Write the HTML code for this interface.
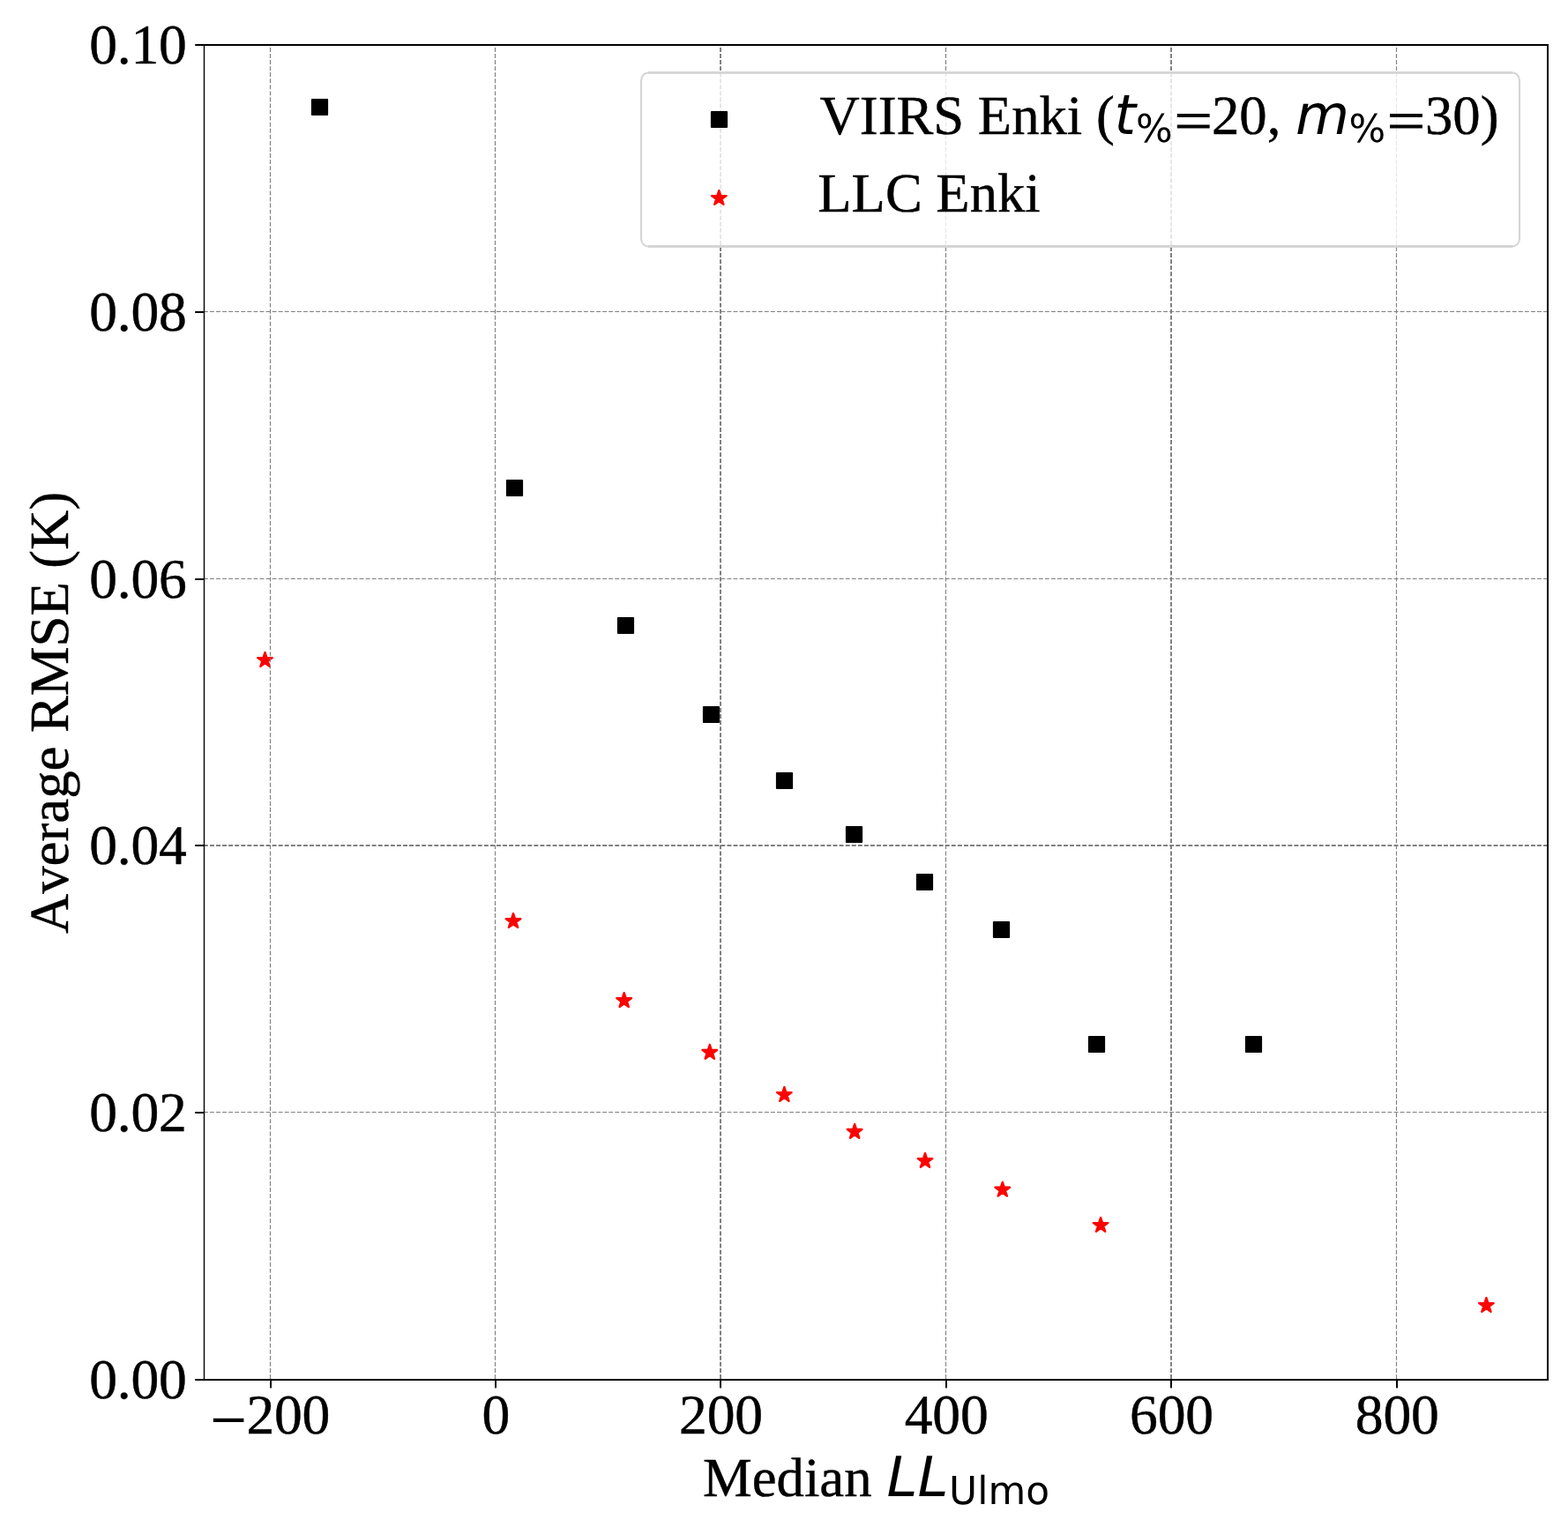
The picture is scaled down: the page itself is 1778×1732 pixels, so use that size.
<!DOCTYPE html>
<html lang="en">
<head>
<meta charset="utf-8">
<title>Average RMSE vs Median LL Ulmo</title>
<style>
html,body{margin:0;padding:0;background:#fff;}
body{width:1778px;height:1732px;overflow:hidden;}
svg{display:block;}
text{font-family:"Liberation Serif","DejaVu Serif",serif;font-size:62.7px;fill:#000;stroke:#000;stroke-width:0.45px;font-kerning:none;font-variant-ligatures:none;text-rendering:geometricPrecision;}
.tl text{font-size:63.6px;letter-spacing:-0.2px;}
.mi{font-family:"DejaVu Sans",sans-serif;font-style:italic;stroke:none;}
.ms{font-family:"DejaVu Sans",sans-serif;font-size:43.89px;stroke:none;}
.op{stroke-width:0.9px;}
.sq{fill:#000;stroke:#000;stroke-width:2.0;stroke-linejoin:round;}
.st{fill:#f00;stroke:#f00;stroke-width:2.4;stroke-linejoin:round;}
.grid line{stroke-dasharray:4.95 2.116;fill:none;}
.gn{stroke:#808080;stroke-width:1.15;}
.gk{stroke:#808080;stroke-width:2;}
.tick rect{fill:#000;}
.spine{fill:#000;}
</style>
</head>
<body>
<svg width="1778" height="1732" viewBox="0 0 1778 1732">
<rect x="0" y="0" width="1778" height="1732" fill="#ffffff"/>

<g id="squares">
<rect class="sq" x="353.90" y="112.90" width="17.20" height="17.20"/>
<rect class="sq" x="574.90" y="544.90" width="17.20" height="17.20"/>
<rect class="sq" x="700.90" y="700.90" width="17.20" height="17.20"/>
<rect class="sq" x="797.90" y="801.90" width="17.20" height="17.20"/>
<rect class="sq" x="880.90" y="876.90" width="17.20" height="17.20"/>
<rect class="sq" x="959.90" y="937.90" width="17.20" height="17.20"/>
<rect class="sq" x="1039.90" y="991.90" width="17.20" height="17.20"/>
<rect class="sq" x="1126.90" y="1045.90" width="17.20" height="17.20"/>
<rect class="sq" x="1234.90" y="1175.90" width="17.20" height="17.20"/>
<rect class="sq" x="1412.90" y="1175.90" width="17.20" height="17.20"/>
</g>
<g id="stars">
<polygon class="st" points="300.50,740.10 298.55,746.11 292.23,746.11 297.34,749.83 295.39,755.84 300.50,752.12 305.61,755.84 303.66,749.83 308.77,746.11 302.45,746.11"/>
<polygon class="st" points="582.00,1036.15 580.05,1042.16 573.73,1042.16 578.84,1045.88 576.89,1051.89 582.00,1048.17 587.11,1051.89 585.16,1045.88 590.27,1042.16 583.95,1042.16"/>
<polygon class="st" points="707.70,1126.20 705.75,1132.21 699.43,1132.21 704.54,1135.93 702.59,1141.94 707.70,1138.22 712.81,1141.94 710.86,1135.93 715.97,1132.21 709.65,1132.21"/>
<polygon class="st" points="804.80,1185.00 802.85,1191.01 796.53,1191.01 801.64,1194.73 799.69,1200.74 804.80,1197.02 809.91,1200.74 807.96,1194.73 813.07,1191.01 806.75,1191.01"/>
<polygon class="st" points="889.35,1233.10 887.40,1239.11 881.08,1239.11 886.19,1242.83 884.24,1248.84 889.35,1245.12 894.46,1248.84 892.51,1242.83 897.62,1239.11 891.30,1239.11"/>
<polygon class="st" points="969.10,1275.00 967.15,1281.01 960.83,1281.01 965.94,1284.73 963.99,1290.74 969.10,1287.02 974.21,1290.74 972.26,1284.73 977.37,1281.01 971.05,1281.01"/>
<polygon class="st" points="1049.00,1308.10 1047.05,1314.11 1040.73,1314.11 1045.84,1317.83 1043.89,1323.84 1049.00,1320.12 1054.11,1323.84 1052.16,1317.83 1057.27,1314.11 1050.95,1314.11"/>
<polygon class="st" points="1136.80,1340.80 1134.85,1346.81 1128.53,1346.81 1133.64,1350.53 1131.69,1356.54 1136.80,1352.82 1141.91,1356.54 1139.96,1350.53 1145.07,1346.81 1138.75,1346.81"/>
<polygon class="st" points="1248.10,1381.10 1246.15,1387.11 1239.83,1387.11 1244.94,1390.83 1242.99,1396.84 1248.10,1393.12 1253.21,1396.84 1251.26,1390.83 1256.37,1387.11 1250.05,1387.11"/>
<polygon class="st" points="1685.40,1472.10 1683.45,1478.11 1677.13,1478.11 1682.24,1481.83 1680.29,1487.84 1685.40,1484.12 1690.51,1487.84 1688.56,1481.83 1693.67,1478.11 1687.35,1478.11"/>
</g>
<g class="grid">
<line class="gn" x1="306.50" y1="1563.95" x2="306.50" y2="52"/>
<line class="gn" x1="561.50" y1="1563.95" x2="561.50" y2="52"/>
<line class="gk" x1="817.00" y1="1563.95" x2="817.00" y2="52"/>
<line class="gn" x1="1072.50" y1="1563.95" x2="1072.50" y2="52"/>
<line class="gk" x1="1328.00" y1="1563.95" x2="1328.00" y2="52"/>
<line class="gn" x1="1583.50" y1="1563.95" x2="1583.50" y2="52"/>
<line class="gn" x1="230.9" y1="1261.50" x2="1754" y2="1261.50"/>
<line class="gk" x1="230.9" y1="959.00" x2="1754" y2="959.00"/>
<line class="gn" x1="230.9" y1="656.50" x2="1754" y2="656.50"/>
<line class="gn" x1="230.9" y1="353.50" x2="1754" y2="353.50"/>
</g>
<g class="tick">
<rect x="306" y="1565" width="2" height="9.4"/>
<rect x="561" y="1565" width="2" height="9.4"/>
<rect x="816" y="1565" width="2" height="9.4"/>
<rect x="1072" y="1565" width="2" height="9.4"/>
<rect x="1327" y="1565" width="2" height="9.4"/>
<rect x="1583" y="1565" width="2" height="9.4"/>
<rect x="221.2" y="50" width="10.3" height="2"/>
<rect x="221.2" y="353" width="10.3" height="2"/>
<rect x="221.2" y="656" width="10.3" height="2"/>
<rect x="221.2" y="958" width="10.3" height="2"/>
<rect x="221.2" y="1261" width="10.3" height="2"/>
<rect x="221.2" y="1564" width="10.3" height="2"/>
</g>
<g class="spine">
<rect x="230.8" y="50" width="1.4" height="1516"/>
<rect x="1754" y="50" width="2" height="1516"/>
<rect x="230.8" y="50" width="1525.2" height="2"/>
<rect x="230.8" y="1564" width="1525.2" height="2"/>
</g>
<g id="legend">
<rect x="727" y="82.4" width="996" height="197.1" rx="8" ry="9" fill="#ffffff" fill-opacity="0.8" stroke="none"/>
<rect x="727" y="82.4" width="996" height="197.1" rx="8" ry="9" fill="none" stroke="#d5d5d5" stroke-width="2.05"/>
<line x1="735" y1="82.4" x2="1715" y2="82.4" stroke="#d5d5d5" stroke-width="2.8"/>
<line x1="735" y1="279.5" x2="1715" y2="279.5" stroke="#d5d5d5" stroke-width="2.8"/>
<rect class="sq" x="806.90" y="126.90" width="17.20" height="17.20"/>
<polygon class="st" points="815.30,216.10 813.35,222.11 807.03,222.11 812.14,225.83 810.19,231.84 815.30,228.12 820.41,231.84 818.46,225.83 823.57,222.11 817.25,222.11"/>
<text x="929.5" y="151.6">VIIRS Enki (<tspan class="mi" x="1263.6">t</tspan><tspan class="ms" x="1287.9" dy="9.3">%</tspan><tspan class="op" x="1331.4" dy="-3.4" textLength="43.35" lengthAdjust="spacingAndGlyphs">=</tspan><tspan x="1374" dy="-5.9">20, </tspan><tspan class="mi" x="1469.0">m</tspan><tspan class="ms" x="1529.6" dy="9.3">%</tspan><tspan class="op" x="1572.8" dy="-3.4" textLength="43.35" lengthAdjust="spacingAndGlyphs">=</tspan><tspan x="1616" dy="-5.9">30)</tspan></text>
<text x="927.3" y="240.4">LLC Enki</text>
</g>
<g id="xticklabels" class="tl" text-anchor="middle">
<text text-anchor="start" x="238.8" y="1632.05"><tspan class="op" textLength="40.45" lengthAdjust="spacingAndGlyphs">−</tspan><tspan x="279.4" dy="-5.85">200</tspan></text>
<text x="562.2" y="1626.2">0</text>
<text x="817.5" y="1626.2">200</text>
<text x="1073.1" y="1626.2">400</text>
<text x="1328.5" y="1626.2">600</text>
<text x="1584.2" y="1626.2">800</text>
</g>
<g id="yticklabels" class="tl" text-anchor="end">
<text x="211.7" y="1586.1">0.00</text>
<text x="211.7" y="1283.1">0.02</text>
<text x="211.7" y="980.1">0.04</text>
<text x="211.7" y="678.1">0.06</text>
<text x="211.7" y="375.1">0.08</text>
<text x="211.7" y="72.1">0.10</text>
</g>
<g id="xlabel">
<text x="797.0" y="1696.5">Median <tspan class="mi" x="1005.6">LL</tspan><tspan class="ms" x="1076.1" dy="9.6">Ulmo</tspan></text>
</g>
<g id="ylabel">
<text transform="translate(76.9,1059) rotate(-90)" x="0" y="0">Average RMSE (K)</text>
</g>
</svg>
</body>
</html>
